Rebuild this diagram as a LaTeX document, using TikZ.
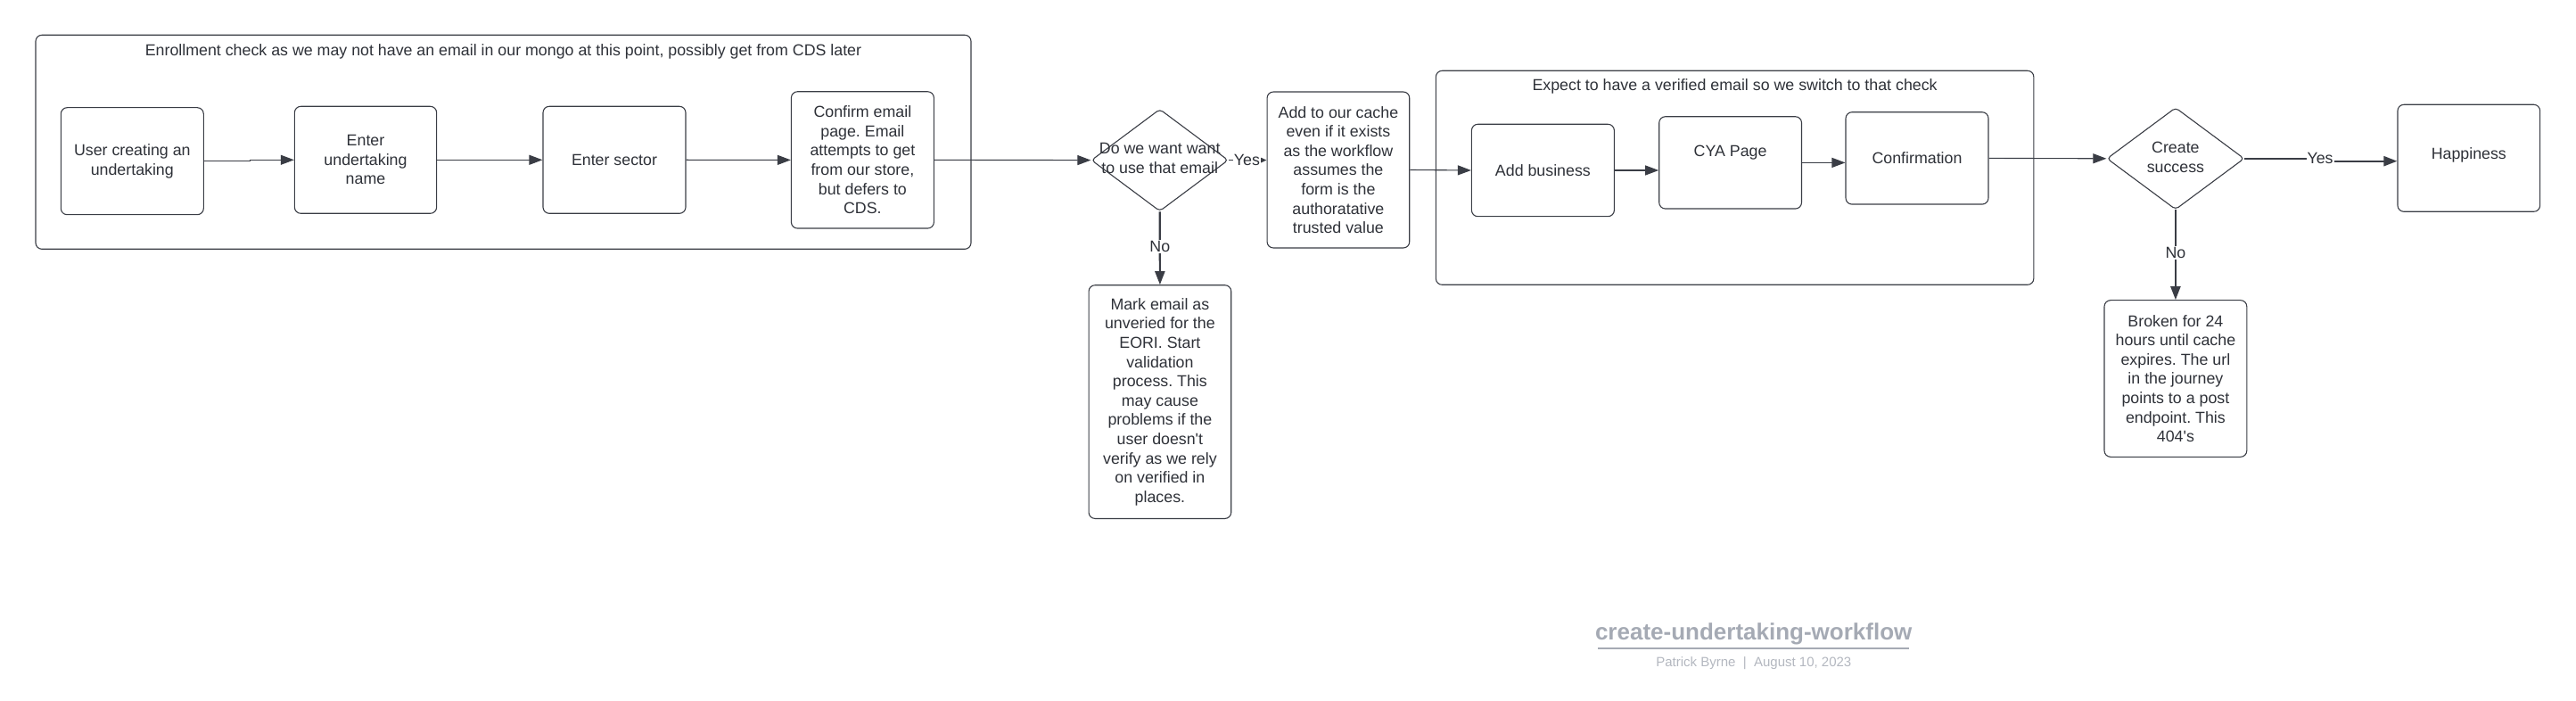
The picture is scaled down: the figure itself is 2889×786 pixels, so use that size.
\documentclass[tikz,border=0pt]{standalone}
\usepackage{fontspec}
\setmainfont{Liberation Sans}
\usetikzlibrary{shapes.geometric,arrows.meta}
\frenchspacing
\definecolor{linec}{HTML}{3A3D45}
\definecolor{textc}{HTML}{2E3138}
\definecolor{footc}{HTML}{A5AAB4}
\definecolor{footsub}{HTML}{B3B7BF}
\tikzset{
 flowbox/.style={draw=linec, line width=1.1pt, rounded corners=7pt, inner sep=0pt, align=center, text=textc, font=\fontsize{17.8}{21.6}\selectfont},
 groupbox/.style={draw=linec, line width=1.1pt, rounded corners=7pt, inner sep=0pt},
 decision/.style={diamond, draw=linec, line width=1.1pt, rounded corners=4pt, inner sep=0pt},
 plain/.style={text=textc, font=\fontsize{17.8}{21.6}\selectfont, align=center, inner sep=0pt},
 flow/.style={draw=linec, line width=1.1pt, -{Triangle[length=15pt,width=11pt]}},
 branch/.style={draw=linec, line width=2.2pt, -{Triangle[length=15pt,width=11pt]}},
 smallflow/.style={draw=linec, line width=1.1pt, -{Triangle[length=7pt,width=6pt]}},
 edgelabel/.style={plain, fill=white, inner sep=1pt},
}
\begin{document}
\begin{tikzpicture}[x=1pt,y=-1pt]
\useasboundingbox (0,0) rectangle (2889,786);
% group 1
\node[groupbox, minimum width=1049pt, minimum height=240pt] (grp1) at (564.5,159.3) {};
\node[plain] (grp1t) at (564.5,57.7) {Enrollment check as we may not have an email in our mongo at this point, possibly get from CDS later};
\node[flowbox, minimum width=160pt, minimum height=120pt] (user) at (148.3,180.7) {User creating an\\undertaking};
\node[flowbox, minimum width=159.3pt, minimum height=120pt] (name) at (410,179.3) {Enter\\undertaking\\name};
\node[flowbox, minimum width=160pt, minimum height=120pt] (sector) at (689,179.3) {Enter sector};
\node[flowbox, minimum width=160pt, minimum height=153.3pt] (confirm) at (967.4,179.4) {Confirm email\\page. Email\\attempts to get\\from our store,\\but defers to\\CDS.};
% decision 1
\node[decision, minimum width=153.5pt, minimum height=114.5pt] (d1) at (1300.7,179.6) {};
\node[plain] (d1t) at (1300.7,177.6) {Do we want want\\to use that email};
\node[flowbox, minimum width=159.7pt, minimum height=175pt] (addc) at (1500.9,190.5) {Add to our cache\\even if it exists\\as the workflow\\assumes the\\form is the\\authoratative\\trusted value};
\node[flowbox, minimum width=159.7pt, minimum height=261.7pt] (mark) at (1300.9,450.6) {Mark email as\\unveried for the\\EORI. Start\\validation\\process. This\\may cause\\problems if the\\user doesn\textquotesingle t\\verify as we rely\\on verified in\\places.};
% group 2
\node[groupbox, minimum width=670.5pt, minimum height=240pt] (grp2) at (1945.6,199.3) {};
\node[plain] (grp2t) at (1945.6,96.7) {Expect to have a verified email so we switch to that check};
\node[flowbox, minimum width=160pt, minimum height=103.4pt] (addb) at (1730.4,191) {Add business};
\node[flowbox, minimum width=159.8pt, minimum height=103.3pt] (cya) at (1940.6,182.4) {};
\node[plain] (cyat) at (1940.6,171) {CYA Page};
\node[flowbox, minimum width=160pt, minimum height=103.3pt] (conf) at (2150,177.4) {Confirmation};
% decision 2
\node[decision, minimum width=154pt, minimum height=114.3pt] (d2) at (2439.9,177.8) {};
\node[plain] (d2t) at (2439.9,176.5) {Create\\success};
\node[flowbox, minimum width=159.7pt, minimum height=120pt] (happ) at (2768.8,177.3) {};
\node[plain] (happt) at (2768.8,174) {Happiness};
\node[flowbox, minimum width=159.8pt, minimum height=175.6pt] (broken) at (2439.9,424.5) {Broken for 24\\hours until cache\\expires. The url\\in the journey\\points to a post\\endpoint. This\\404\textquotesingle s};
% connectors
\draw[flow] (user.east) -- ++(52,0) |- (name.west);
\draw[flow] (name.east) -- (sector.west);
\draw[flow] (sector.east) -- (confirm.west);
\draw[flow] (confirm.east) -- (d1.west);
\draw[smallflow] (d1.east) -- (d1.east -| addc.west) node[edgelabel, pos=0.48] (yes1) {Yes};
\draw[branch] (d1.south) -- (mark.north) node[edgelabel, pos=0.48] (no1) {No};
\draw[flow] (addc.east) -- (addb.west);
\draw[flow] (addb.east) -- (addb.east -| cya.west);
\draw[flow] (cya.east) -- (cya.east -| conf.west);
\draw[flow] (conf.east) -- (d2.west);
\coordinate (yj1) at (2602,177.8);
\coordinate (yj2) at (2602,180.7);
\draw[branch] (d2.east) -- (yj1) -- (yj2) -- (yj2 -| happ.west);
\node[edgelabel] (yes2) at (2602,177) {Yes};
\draw[branch] (d2.south) -- (broken.north) node[edgelabel, pos=0.475] (no2) {No};
% footer
\node[font=\bfseries\fontsize{26}{30}\selectfont, text=footc, inner sep=0pt] (ftitle) at (1966.7,711) {create-undertaking-workflow};
\coordinate (ul1) at (1792.3,727);
\coordinate (ul2) at (2140.7,727);
\draw[footc, line width=2pt] (ul1) -- (ul2);
\node[font=\fontsize{15}{18}\selectfont, text=footsub, inner sep=0pt] (fsub) at (1966.8,743.5) {Patrick Byrne~~|~~August 10, 2023};
\end{tikzpicture}
\end{document}
